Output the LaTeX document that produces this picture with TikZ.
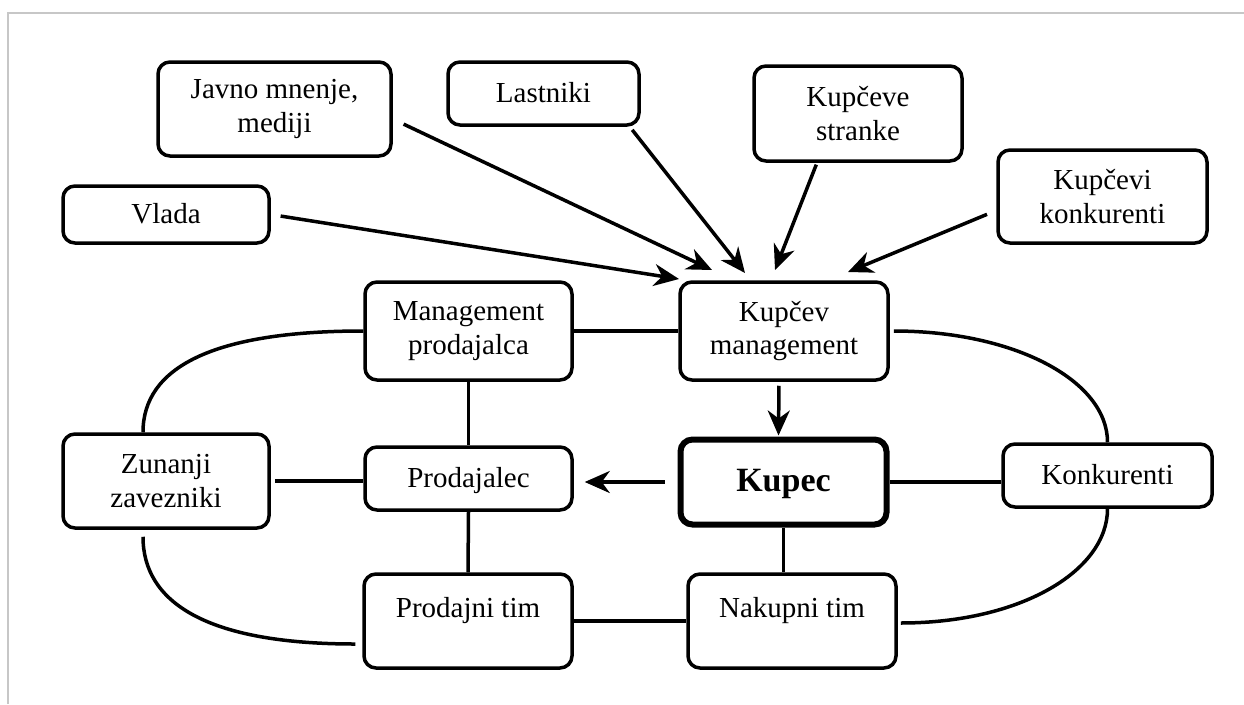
\documentclass[tikz,border=0pt]{standalone}
\usepackage{fontspec}
\setmainfont{Liberation Serif}
\usetikzlibrary{arrows.meta,calc}

\begin{document}
\begin{tikzpicture}[x=1pt,y=-1pt,
  box/.style={draw, line width=3.5pt, rounded corners=12pt, inner sep=0pt,
    align=center, font=\fontsize{29}{33.5}\selectfont},
  oneline/.style={text height=19pt, text depth=1pt},
  toptext/.style={text height=20pt, text depth=28pt},
  link/.style={line width=3.5pt},
  arr/.style={line width=3.5pt, -{Stealth[length=25pt,width=22pt,inset=8pt]}},
  frame/.style={draw=black!22, line width=2pt}
]
\useasboundingbox (0,0) rectangle (1244,704);
\draw[frame] (8,704) -- (8,13) -- (1244,13);

% outer influences
\node[box, minimum width=233pt, minimum height=94pt] (jav) at (274.5,109) {Javno mnenje,\\ mediji};
\node[box, oneline, minimum width=191pt, minimum height=63pt] (las) at (543.5,93.5) {Lastniki};
\node[box, minimum width=208pt, minimum height=95pt] (kst) at (858,113.5) {Kupčeve\\ stranke};
\node[box, oneline, minimum width=206pt, minimum height=57pt] (vla) at (166,214.5) {Vlada};
\node[box, minimum width=209pt, minimum height=93pt] (kko) at (1102.5,196.5) {Kupčevi\\ konkurenti};

% central ring
\node[box, minimum width=207pt, minimum height=98pt] (mpr) at (468.5,331) {Management\\ prodajalca};
\node[box, minimum width=208pt, minimum height=98pt] (kma) at (784,331) {Kupčev\\ management};
\node[box, minimum width=206pt, minimum height=94pt] (zun) at (166,481) {Zunanji\\ zavezniki};
\node[box, oneline, minimum width=207pt, minimum height=63pt] (prd) at (468.5,478.5) {Prodajalec};
\node[box, oneline, line width=6pt, minimum width=206pt, minimum height=85pt,
      font=\fontsize{34}{38}\selectfont\bfseries] (kup) at (783.5,482) {Kupec};
\node[box, oneline, minimum width=209pt, minimum height=63pt] (kon) at (1107.5,475.5) {Konkurenti};
\node[box, toptext, minimum width=208pt, minimum height=94pt] (pti) at (468,621) {Prodajni tim};
\node[box, toptext, minimum width=208pt, minimum height=94pt] (nti) at (792,621) {Nakupni tim};

% arrow targets above the buyer's management
\coordinate (tA) at (679,279);
\coordinate (tB) at (712,270);
\coordinate (tC) at (745,273);
\coordinate (tD) at (775,270);
\coordinate (tE) at (848,272);

\draw[arr, shorten <=10pt] (vla.east) -- (tA);
\draw[arr, shorten <=12pt] ($(jav.east)+(0,10)$) -- (tB);
\draw[arr, shorten <=4pt] ($(las.south east)+(-11,0)$) -- (tC);
\draw[arr, shorten <=2pt] ($(kst.south)+(-41,0)$) -- (tD);
\draw[arr, shorten <=10pt] ($(kko.west)+(0,14)$) -- (tE);

% links inside the ring
\draw[arr, shorten <=4pt, shorten >=1pt] ($(kma.south)+(-5,0)$) -- ($(kup.north)+(-5,0)$);
\draw[arr, shorten <=13pt, shorten >=11pt] (kup.west) -- (kup.west -| prd.east);
\draw[link] (mpr.east) -- (kma.west);
\draw[link] (mpr.south) -- (prd.north);
\draw[link] (prd.south) -- (pti.north);
\draw[link] (pti.east) -- (pti.east -| nti.west);
\draw[link] (kup.south) -- (kup.south |- nti.north);
\draw[link] (kup.east) -- (kup.east -| kon.west);
\draw[link, shorten <=4pt] (zun.east) -- (zun.east -| prd.west);

% outer arcs
\draw[link] (mpr.west) .. controls +(-150,0) and +(0,-65) .. ($(zun.north)+(-23,0)$);
\draw[link] ($(zun.south)+(-23,7)$) .. controls +(0,65) and +(-150,0) .. ($(pti.west)+(-7,23)$);
\draw[link] ($(kma.east)+(4,0)$) .. controls +(120,0) and +(0,-62) .. (kon.north);
\draw[link] (kon.south) .. controls +(0,62) and +(120,0) .. ($(nti.east)+(3,2)$);
\end{tikzpicture}
\end{document}
